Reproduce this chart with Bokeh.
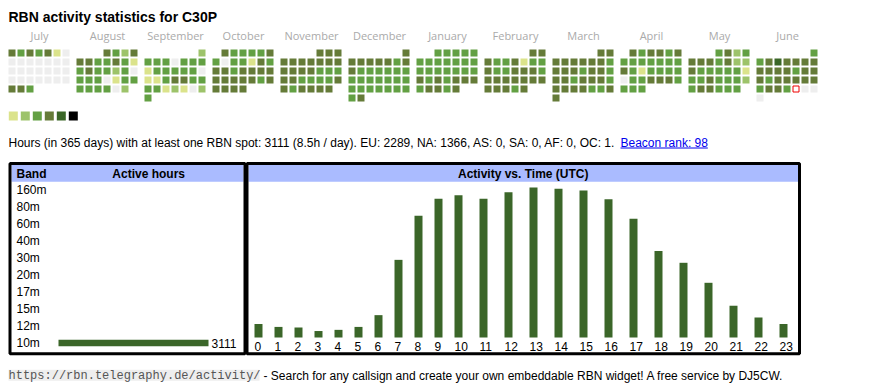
import datetime as dt
from bokeh.plotting import figure
from bokeh.models import Range1d, ColumnDataSource
from bokeh.core.properties import value
from bokeh.embed import file_html
from bokeh.resources import INLINE

# ---------------- data ----------------
TITLE = "RBN activity statistics for C30P"
month_names = ["July", "August", "September", "October", "November", "December",
               "January", "February", "March", "April", "May", "June"]
month_years = [2024, 2024, 2024, 2024, 2024, 2024, 2025, 2025, 2025, 2025, 2025, 2025]
month_numbers = [7, 8, 9, 10, 11, 12, 1, 2, 3, 4, 5, 6]

# activity level per day: 0 none, 1..5 increasing activity
jul_2024 = "4343410" + "000000000000000000000" + "443"
aug_2024 = "4324" + "4433431" + "3433230" + "3330133" + "333302"
sep_2024 = "2" + "3330333" + "1333330" + "1134433" + "3312102" + "3"
oct_2024 = "433334" + "3033143" + "4434444" + "4444434" + "4444"
nov_2024 = "444" + "4444444" + "4444333" + "4433334" + "434444"
dec_2024 = "4" + "4444434" + "4333333" + "3333333" + "3333333" + "34"
jan_2025 = "33333" + "3333333" + "3333333" + "4343444" + "34434"
feb_2025 = "44" + "4334133" + "4334443" + "4444444" + "44434"
mar_2025 = "44" + "4444443" + "4443443" + "4434443" + "4444334" + "4"
apr_2025 = "434434" + "3333333" + "4313333" + "0334443" + "333"
may_2025 = "3423" + "4443422" + "4333331" + "3343332" + "344333"
jun_2025 = "3" + "3454444" + "4444344" + "4344444" + "3443000" + "0"
month_levels = [jul_2024, aug_2024, sep_2024, oct_2024, nov_2024, dec_2024,
                jan_2025, feb_2025, mar_2025, apr_2025, may_2025, jun_2025]
today = dt.date(2025, 6, 27)

level_colors = ["#eeeeee", "#dbe38b", "#9dc36a", "#63a043", "#657b38", "#3a6627", "#000000"]
legend_levels = [1, 2, 3, 4, 5, 6]

info_text = ("Hours (in 365 days) with at least one RBN spot: 3111 (8.5h / day). "
             "EU: 2289, NA: 1366, AS: 0, SA: 0, AF: 0, OC: 1.")
link_text = "Beacon rank: 98"

bands = ["160m", "80m", "60m", "40m", "30m", "20m", "17m", "15m", "12m", "10m"]
band_hours = [0, 0, 0, 0, 0, 0, 0, 0, 0, 3111]

hour_labels = [str(h) for h in range(24)]
hour_counts = [23, 18, 17, 11, 13, 18, 38, 132, 207, 236, 242, 236,
               247, 255, 253, 250, 235, 202, 147, 127, 93, 54, 34, 23]

footer_url = "https://rbn.telegraphy.de/activity/"
footer_text = "- Search for any callsign and create your own embeddable RBN widget! A free service by DJ5CW."

# ---------------- layout ----------------
W, H = 870, 390
X0, Y0 = 0, 0
SANS = value("Liberation Sans")
MONO = value("Liberation Mono")
BAR_COLOR = "#3b6629"
HEAD_BG = "#aabbff"

p = figure(width=W, height=H, x_range=Range1d(X0, X0 + W), y_range=Range1d(Y0 + H, Y0),
           output_backend="svg", toolbar_location=None,
           x_axis_location=None, y_axis_location=None, min_border=0,
           outline_line_color=None, background_fill_color="white",
           border_fill_color="white")
p.grid.visible = False

# value scales for the two bar charts
HOUR_BASE, HOUR_PX = 337.0, 150.0
vmax = max(hour_counts)
BAND_BASE, BAND_PX = 58.0, 150.0
bmax = max(band_hours)
p.extra_y_ranges = {"hv": Range1d(start=(HOUR_BASE - (Y0 + H)) / HOUR_PX * vmax,
                                  end=(HOUR_BASE - Y0) / HOUR_PX * vmax)}
p.extra_x_ranges = {"bv": Range1d(start=(X0 - BAND_BASE) / BAND_PX * bmax,
                                  end=(X0 + W - BAND_BASE) / BAND_PX * bmax)}

# title
p.text(x=[8], y=[16], text=[TITLE], text_font=SANS, text_font_style="bold",
       text_font_size="14px", text_color="#000000", text_baseline="middle")

# calendar
CAL_X, CAL_Y, MONTH_STEP, PITCH, CELL = 8, 49, 68, 9, 7
cl, cr, ct, cb, cc = [], [], [], [], []
tx, ty = [], []
mx, my = [], []
for m in range(12):
    first = dt.date(month_years[m], month_numbers[m], 1)
    off = first.weekday()
    bx = CAL_X + MONTH_STEP * m
    mx.append(bx + 3.5 * PITCH - 0.5)
    my.append(35)
    for d, ch in enumerate(month_levels[m]):
        pos = off + d
        col, row = pos % 7, pos // 7
        x = bx + PITCH * col
        y = CAL_Y + PITCH * row
        day = dt.date(month_years[m], month_numbers[m], d + 1)
        if day == today:
            tx.append(x)
            ty.append(y)
            continue
        cl.append(x); cr.append(x + CELL); ct.append(y); cb.append(y + CELL)
        cc.append(level_colors[int(ch)])
p.quad(source=ColumnDataSource(dict(left=cl, right=cr, top=ct, bottom=cb, color=cc)),
       left="left", right="right", top="top", bottom="bottom",
       fill_color="color", line_color=None)
p.quad(left=[x + 0.5 for x in tx], right=[x + CELL - 0.5 for x in tx],
       top=[y + 0.5 for y in ty], bottom=[y + CELL - 0.5 for y in ty],
       fill_color="white", line_color="#ee0000", line_width=1)
p.text(x=mx, y=my, text=month_names, text_font=value("Open Sans"), text_font_size="11px",
       text_color="#aaaaaa", text_align="center", text_baseline="middle")

# legend
LEG_X, LEG_Y, LEG_STEP, LEG_SIZE = 8.3, 111, 12, 9
p.quad(left=[LEG_X + LEG_STEP * i for i in range(len(legend_levels))],
       right=[LEG_X + LEG_STEP * i + LEG_SIZE for i in range(len(legend_levels))],
       top=[LEG_Y] * len(legend_levels), bottom=[LEG_Y + LEG_SIZE] * len(legend_levels),
       fill_color=[level_colors[l] for l in legend_levels], line_color=None)

# info line
INFO_Y = 142
p.text(x=[8], y=[INFO_Y], text=[info_text], text_font=SANS, text_font_size="12px",
       text_color="#000000", text_baseline="middle")
LINK_X0, LINK_X1 = 620, 707.3
p.text(x=[LINK_X0], y=[INFO_Y], text=[link_text], text_font=SANS, text_font_size="12px",
       text_color="#0000ee", text_baseline="middle")
p.segment(x0=[LINK_X0], x1=[LINK_X1], y0=[147.5], y1=[147.5], line_color="#0000ee", line_width=1)

# boxes: header backgrounds
BOX_TOP, HEAD_BOT, BOX_BOT = 163, 181.3, 353.3
LB_L, LB_R, RB_L, RB_R = 9.5, 244.5, 246.5, 799
p.quad(left=[LB_L + 1.5, RB_L + 1.5], right=[LB_R - 1.5, RB_R - 1.5],
       top=[BOX_TOP + 1.5, BOX_TOP + 1.5], bottom=[HEAD_BOT, HEAD_BOT],
       fill_color=HEAD_BG, line_color=None)
p.text(x=[16], y=[173.3], text=["Band"], text_font=SANS, text_font_style="bold",
       text_font_size="12px", text_baseline="middle", text_color="#000000")
p.text(x=[148.2], y=[173.3], text=["Active hours"], text_font=SANS, text_font_style="bold",
       text_font_size="12px", text_baseline="middle", text_align="center", text_color="#000000")
p.text(x=[(RB_L + RB_R) / 2], y=[173.3], text=["Activity vs. Time (UTC)"], text_font=SANS,
       text_font_style="bold", text_font_size="12px", text_baseline="middle",
       text_align="center", text_color="#000000")

# band table
BAND_Y0, BAND_STEP = 189.5, 17
band_y = [BAND_Y0 + BAND_STEP * i for i in range(len(bands))]
p.text(x=[16] * len(bands), y=band_y, text=bands, text_font=SANS, text_font_size="12px",
       text_baseline="middle", text_color="#000000")
nz = [i for i, v in enumerate(band_hours) if v > 0]
p.hbar(y=[band_y[i] for i in nz], left=0, right=[band_hours[i] for i in nz], height=6.5,
       x_range_name="bv", fill_color=BAR_COLOR, line_color=None)
p.text(x=[band_hours[i] for i in nz], y=[band_y[i] for i in nz],
       text=[str(band_hours[i]) for i in nz], x_offset=3, x_range_name="bv",
       text_font=SANS, text_font_size="12px", text_baseline="middle", text_color="#000000")

# hour chart
hour_left = []
cur = 254
for lab in hour_labels:
    hour_left.append(cur)
    cur += 20 if len(lab) == 1 else 25
p.quad(left=hour_left, right=[x + 8 for x in hour_left], bottom=0, top=hour_counts,
       y_range_name="hv", fill_color=BAR_COLOR, line_color=None)
p.text(x=hour_left, y=[346] * len(hour_labels), text=hour_labels, text_font=SANS,
       text_font_size="12px", text_baseline="middle", text_color="#000000")

# box borders
p.quad(left=[LB_L, RB_L], right=[LB_R, RB_R], top=[BOX_TOP, BOX_TOP], bottom=[BOX_BOT, BOX_BOT],
       fill_color=None, line_color="#000000", line_width=3)

# footer
p.quad(left=[8], right=[259], top=[369.3], bottom=[380.3], fill_color="#eeeeee", line_color=None)
p.text(x=[8], y=[375], text=[footer_url], text_font=MONO, text_font_size="12px",
       text_color="#555555", text_baseline="middle")
p.text(x=[263], y=[375], text=[footer_text], text_font=SANS, text_font_size="12px",
       text_color="#000000", text_baseline="middle")

open("out.html", "w").write(file_html(p, INLINE))
